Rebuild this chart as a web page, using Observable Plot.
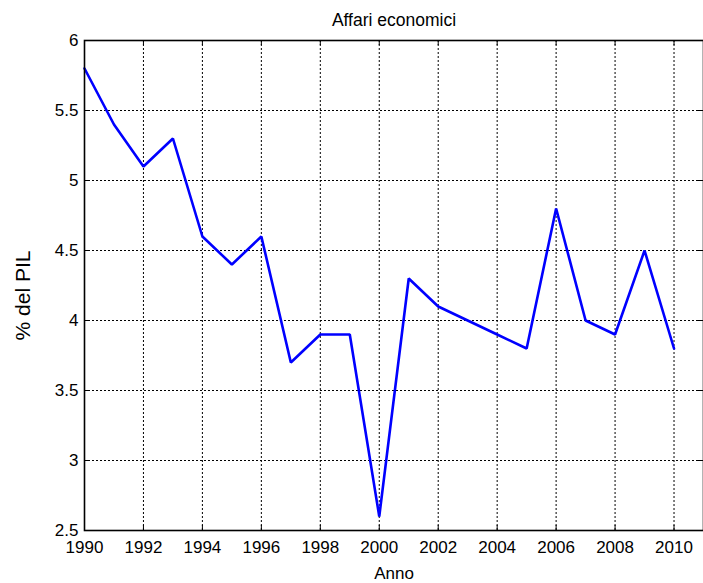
<!DOCTYPE html>
<html>
<head>
<meta charset="utf-8">
<script src="https://cdn.jsdelivr.net/npm/d3@7"></script>
<script src="https://cdn.jsdelivr.net/npm/@observablehq/plot@0.6"></script>
<style>
  html, body { margin: 0; padding: 0; background: #fff; }
  svg { display: block; }
</style>
</head>
<body>
<div id="chart"></div>
<script>
const years = [1990,1991,1992,1993,1994,1995,1996,1997,1998,1999,2000,2001,2002,2003,2004,2005,2006,2007,2008,2009,2010];
const values = [5.8,5.4,5.1,5.3,4.6,4.4,4.6,3.7,3.9,3.9,2.6,4.3,4.1,4.0,3.9,3.8,4.8,4.0,3.9,4.5,3.8];
const xTicks = [1990,1992,1994,1996,1998,2000,2002,2004,2006,2008,2010];
const yTicks = [2.5,3,3.5,4,4.5,5,5.5,6];
const title = "Affari economici";
const xLabel = "Anno";
const yLabel = "% del PIL";

const data = years.map((y, i) => ({year: y, value: values[i]}));

const W = 703, H = 583, mL = 84, mR = 0, mT = 40, mB = 53;
const fw = W - mL - mR, fh = H - mT - mB, tk = 5;
const font = "Liberation Sans, Arial, Helvetica, sans-serif";

const chart = Plot.plot({
  width: W, height: H,
  marginLeft: mL, marginRight: mR, marginTop: mT, marginBottom: mB,
  style: {fontFamily: font, background: "#fff", color: "#000"},
  x: {domain: [1990, 2011]},
  y: {domain: [2.5, 6]},
  marks: [
    Plot.gridX(xTicks, {stroke: "#000", strokeOpacity: 1, strokeWidth: 1, strokeDasharray: "2,2"}),
    Plot.gridY(yTicks, {stroke: "#000", strokeOpacity: 1, strokeWidth: 1, strokeDasharray: "2,2"}),
    // inward ticks
    Plot.ruleX(xTicks, {x: d => d, insetTop: fh - tk, stroke: "#000", strokeWidth: 1}),
    Plot.ruleX(xTicks, {x: d => d, insetBottom: fh - tk, stroke: "#000", strokeWidth: 1}),
    Plot.ruleY(yTicks, {y: d => d, insetRight: fw - tk, stroke: "#000", strokeWidth: 1}),
    Plot.ruleY(yTicks, {y: d => d, insetLeft: fw - tk, stroke: "#000", strokeWidth: 1}),
    Plot.line(data, {x: "year", y: "value", stroke: "#0000ff", strokeWidth: 2.6, strokeLinejoin: "miter"}),
    Plot.frame({stroke: "#000", strokeWidth: 1.6}),
    Plot.axisX(xTicks, {tickSize: 0, tickPadding: 10, tickFormat: d => String(d), fontSize: 17, label: null}),
    Plot.axisY(yTicks, {tickSize: 0, tickPadding: 6, tickFormat: d => String(d), fontSize: 17, label: null}),
    Plot.text([title], {frameAnchor: "top", dy: -20, fontSize: 17.5, lineAnchor: "middle"}),
    Plot.text([xLabel], {frameAnchor: "bottom", dy: 43, fontSize: 17, lineAnchor: "middle"}),
    Plot.text([yLabel], {frameAnchor: "left", textAnchor: "middle", dx: -61, dy: 10, rotate: -90, fontSize: 21, lineAnchor: "middle"})
  ]
});
document.getElementById("chart").appendChild(chart);
</script>
</body>
</html>
